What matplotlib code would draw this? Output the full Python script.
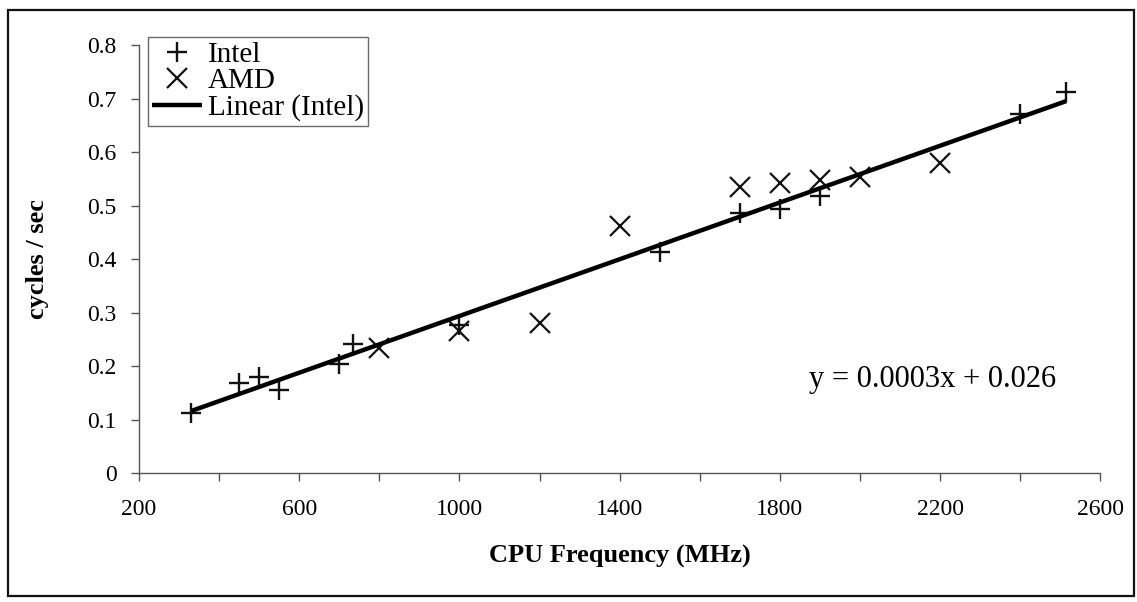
import matplotlib
matplotlib.use('Agg')
import matplotlib.pyplot as plt
import numpy as np
from matplotlib.patches import Rectangle

# CPU frequency (MHz) vs cycles/sec
intel_mhz = [330, 450, 500, 550, 700, 733, 1000, 1500, 1700, 1800, 1900, 2400, 2515]
intel_val = [0.112, 0.168, 0.180, 0.155, 0.204, 0.241, 0.277, 0.414, 0.487, 0.494, 0.517, 0.672, 0.712]
amd_mhz = [800, 1000, 1200, 1400, 1700, 1800, 1900, 2000, 2200]
amd_val = [0.234, 0.265, 0.281, 0.462, 0.535, 0.542, 0.548, 0.553, 0.579]

x_ticks = [200, 400, 600, 800, 1000, 1200, 1400, 1600, 1800, 2000, 2200, 2400, 2600]
x_labels = ['200', '', '600', '', '1000', '', '1400', '', '1800', '', '2200', '', '2600']
y_ticks = [0, 0.1, 0.2, 0.3, 0.4, 0.5, 0.6, 0.7, 0.8]
y_labels = ['0', '0.1', '0.2', '0.3', '0.4', '0.5', '0.6', '0.7', '0.8']
equation = 'y = 0.0003x + 0.026'

plt.rcParams['font.family'] = ['Liberation Serif', 'DejaVu Serif']

fig = plt.figure(figsize=(11.37, 6.02), dpi=100)
ax = fig.add_axes([0.1223, 0.2143, 0.8454, 0.7107])

ax.plot(intel_mhz, intel_val, linestyle='none', marker='+', markersize=15,
        markeredgewidth=1.7, color='#111111', label='Intel')
ax.plot(amd_mhz, amd_val, linestyle='none', marker='x', markersize=14,
        markeredgewidth=1.6, color='#111111', label='AMD')

# linear trend on the Intel series
slope, icept = np.polyfit(intel_mhz, intel_val, 1)
fit_x = np.array([min(intel_mhz), max(intel_mhz)])
ax.plot(fit_x, slope * fit_x + icept, color='#000000', linewidth=3.2,
        solid_capstyle='butt', label='Linear (Intel)')

ax.text(1872, 0.161, equation, fontsize=22, va='baseline', ha='left')

ax.set_xlim(200, 2600)
ax.set_ylim(0, 0.8)
ax.set_xticks(x_ticks)
ax.set_xticklabels(x_labels)
ax.set_yticks(y_ticks)
ax.set_yticklabels(y_labels)
ax.tick_params(axis='both', direction='out', length=6, width=1,
               color='#555555', labelsize=17)
ax.tick_params(axis='x', pad=13)
ax.tick_params(axis='y', pad=10)

for side in ['top', 'right']:
    ax.spines[side].set_visible(False)
for side in ['left', 'bottom']:
    ax.spines[side].set_color('#555555')
    ax.spines[side].set_linewidth(1)

ax.set_xlabel('CPU Frequency (MHz)', fontsize=19, fontweight='bold', labelpad=18)
ax.set_ylabel('cycles / sec', fontsize=19, fontweight='bold', labelpad=28)

leg = ax.legend(loc='upper left', bbox_to_anchor=(0.0094, 1.0187), fontsize=21,
                frameon=True, fancybox=False, handlelength=1.7, handletextpad=0.2,
                labelspacing=0.0, borderpad=0.15, borderaxespad=0)
leg.get_frame().set_edgecolor('#444444')
leg.get_frame().set_linewidth(1)

# outer chart border
fig.patches.append(Rectangle((0.007, 0.01), 0.99, 0.973, transform=fig.transFigure,
                             fill=False, edgecolor='#111111', linewidth=1.6))

plt.savefig('out.png', dpi=100)
plt.close()
